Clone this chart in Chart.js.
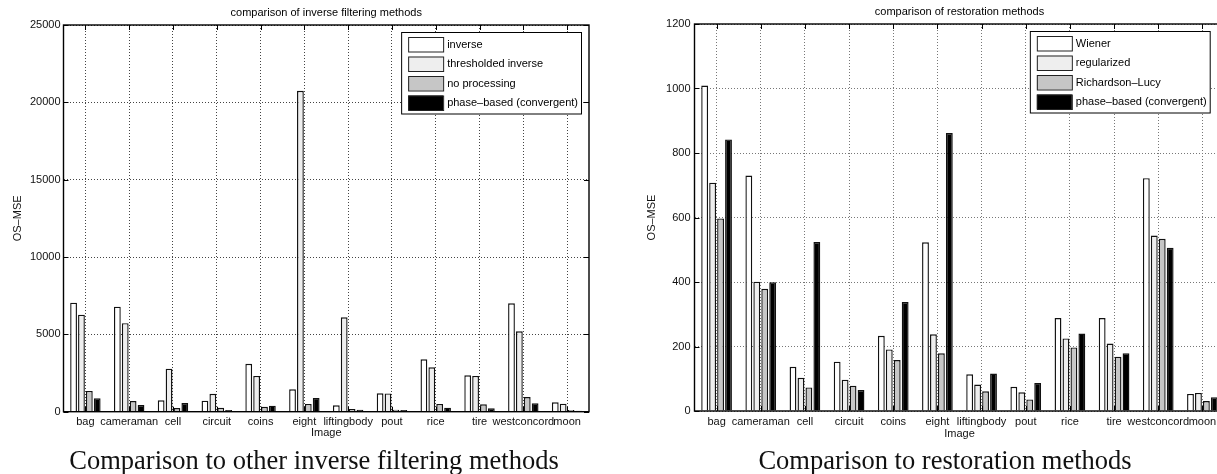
<!DOCTYPE html>
<html>
<head>
<meta charset="utf-8">
<script src="https://cdn.jsdelivr.net/npm/chart.js@4.4.1/dist/chart.umd.min.js"></script>
<style>
  html, body { margin: 0; padding: 0; background: #fff; width: 1217px; height: 474px; overflow: hidden; }
  .wrap { position: absolute; top: 0; }
  .caption { position: absolute; top: 447px; width: 600px; text-align: center; white-space: nowrap;
    font-family: "Liberation Serif", serif; font-size: 26.5px; line-height: 26.5px; color: #111; }
</style>
</head>
<body>
<div class="wrap" style="left:0"><canvas id="chartA" width="610" height="446"></canvas></div>
<div class="wrap" style="left:610px"><canvas id="chartB" width="630" height="446"></canvas></div>
<div class="caption" style="left:14px">Comparison to other inverse filtering methods</div>
<div class="caption" style="left:645px">Comparison to restoration methods</div>
<script>
const images = ['bag', 'cameraman', 'cell', 'circuit', 'coins', 'eight', 'liftingbody',
    'pout', 'rice', 'tire', 'westconcord', 'moon'];

// left chart: inverse filtering methods
const labelsA = ['inverse', 'thresholded inverse', 'no processing', 'phase–based (convergent)'];
const inverseMse = [7050, 6790, 740, 710, 3100, 1450, 410, 1190, 3390, 2350, 7010, 610];
const thresholdedMse = [6270, 5720, 2780, 1160, 2310, 20750, 6100, 1180, 2870, 2310, 5200, 520];
const noProcessingMse = [1340, 690, 240, 260, 320, 500, 170, 130, 500, 480, 950, 110];
const phaseMseA = [870, 430, 560, 110, 390, 890, 130, 110, 260, 220, 540, 60];
const yTicksA = [0, 5000, 10000, 15000, 20000, 25000];

// right chart: restoration methods
const labelsB = ['Wiener', 'regularized', 'Richardson–Lucy', 'phase–based (convergent)'];
const wienerMse = [1009, 730, 137, 153, 233, 523, 114, 75, 288, 288, 722, 53];
const regularizedMse = [708, 401, 103, 97, 191, 238, 82, 58, 225, 209, 544, 56];
const lucyMse = [597, 379, 73, 78, 158, 179, 61, 36, 197, 168, 534, 31];
const phaseMseB = [842, 399, 524, 65, 338, 862, 116, 87, 240, 179, 506, 43];
const yTicksB = [0, 200, 400, 600, 800, 1000, 1200];

const fills = ['#ffffff', '#eeeeee', '#c6c6c6', '#000000'];
const sans = '"Liberation Sans", Arial, sans-serif';
const font = { family: sans, size: 11 };

// matlab style box, inward ticks and legend inside the axes
const framePlugin = {
    id: 'frame',
    afterDraw(chart, args, opts) {
        const { ctx, chartArea: a, scales: { x, y } } = chart;
        ctx.save();
        ctx.strokeStyle = '#000';
        ctx.lineWidth = 1.4;
        ctx.strokeRect(a.left, a.top, a.right - a.left, a.bottom - a.top);

        ctx.lineWidth = 1;
        ctx.beginPath();
        x.ticks.forEach((t, i) => {
            const px = Math.round(x.getPixelForTick(i)) + 0.5;
            ctx.moveTo(px, a.top); ctx.lineTo(px, a.top + 5);
            ctx.moveTo(px, a.bottom); ctx.lineTo(px, a.bottom - 5);
        });
        y.ticks.forEach((t, i) => {
            const py = Math.round(y.getPixelForTick(i)) + 0.5;
            ctx.moveTo(a.left, py); ctx.lineTo(a.left + 5, py);
            ctx.moveTo(a.right, py); ctx.lineTo(a.right - 5, py);
        });
        ctx.stroke();

        // legend box
        const sets = chart.data.datasets;
        ctx.font = '11px ' + sans;
        const tw = Math.max(...sets.map(d => ctx.measureText(d.label).width));
        const boxW = 7 + 35 + 4 + tw + 3;
        const rowH = 19.5;
        const boxH = 12 + rowH * (sets.length - 1) + 11;
        const boxL = a.right - opts.inset - boxW;
        const boxT = a.top + 7;
        ctx.fillStyle = '#fff';
        ctx.fillRect(boxL, boxT, boxW, boxH);
        ctx.strokeRect(boxL + 0.5, boxT + 0.5, boxW, boxH);
        sets.forEach((d, i) => {
            const cy = boxT + 12 + i * rowH;
            ctx.fillStyle = d.backgroundColor;
            ctx.fillRect(boxL + 7, cy - 7, 35, 14.5);
            ctx.strokeStyle = '#222';
            ctx.strokeRect(boxL + 7.5, cy - 6.5, 35, 14.5);
            ctx.fillStyle = '#000';
            ctx.textBaseline = 'middle';
            ctx.fillText(d.label, boxL + 7 + 35 + 4, cy + 0.5);
        });
        ctx.restore();
    }
};

function makeChart(id, title, labels, series, yTicks, lay) {
    return new Chart(document.getElementById(id), {
        type: 'bar',
        data: {
            labels: images,
            datasets: series.map((data, i) => ({
                label: labels[i],
                data: data,
                backgroundColor: fills[i],
                borderColor: '#111',
                borderWidth: 1.4,
                categoryPercentage: 0.72,
                barPercentage: 0.86
            }))
        },
        options: {
            responsive: false,
            animation: false,
            devicePixelRatio: 1,
            layout: { padding: { left: 0, right: lay.padRight, top: 0, bottom: 0 } },
            plugins: {
                legend: { display: false },
                tooltip: { enabled: false },
                title: {
                    display: true,
                    text: title,
                    fullSize: false,
                    color: '#000',
                    font: { family: sans, size: 11, weight: 'normal' },
                    padding: { top: lay.titleTop, bottom: lay.titleBottom }
                },
                frame: { inset: lay.legendInset }
            },
            scales: {
                x: {
                    grid: { color: lay.gridColor, drawTicks: false, offset: false },
                    border: { display: false, dash: [1, 2] },
                    ticks: { autoSkip: false, maxRotation: 0, minRotation: 0, padding: 4, color: '#111', font },
                    title: { display: true, text: 'Image', color: '#111', font, padding: { top: 0, bottom: lay.xTitleBottom } },
                    afterFit: s => { s.height = lay.xHeight; }
                },
                y: {
                    min: yTicks[0],
                    max: yTicks[yTicks.length - 1],
                    ticks: {
                        stepSize: yTicks[1] - yTicks[0],
                        padding: lay.yPad,
                        color: '#111',
                        font,
                        callback: v => String(v)
                    },
                    grid: { color: lay.gridColor, drawTicks: false },
                    border: { display: false, dash: [1, 2] },
                    title: { display: true, text: 'OS–MSE', color: '#111', font, padding: { top: lay.yTitleTop, bottom: 0 } },
                    afterFit: s => { s.width = lay.yWidth; }
                }
            }
        },
        plugins: [framePlugin]
    });
}

makeChart('chartA', 'comparison of inverse filtering methods', labelsA,
    [inverseMse, thresholdedMse, noProcessingMse, phaseMseA], yTicksA,
    { yWidth: 63.5, padRight: 21, titleTop: 6, titleBottom: 5.8, xHeight: 34.3, xTitleBottom: 6.4,
      yPad: 3, yTitleTop: 11.4, legendInset: 8, gridColor: '#444' });

makeChart('chartB', 'comparison of restoration methods', labelsB,
    [wienerMse, regularizedMse, lucyMse, phaseMseB], yTicksB,
    { yWidth: 84.5, padRight: 15.5, titleTop: 5, titleBottom: 5.8, xHeight: 35, xTitleBottom: 5.4,
      yPad: 4, yTitleTop: 35.1, legendInset: 14.8, gridColor: '#777' });
</script>
</body>
</html>
